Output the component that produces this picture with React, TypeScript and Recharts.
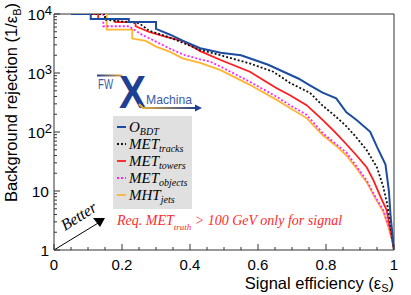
import React from 'react';
import { LineChart, Line, XAxis, YAxis, ReferenceArea } from 'recharts';

// signal efficiency / background rejection per discriminant
const effBdt = [0.05, 0.108, 0.108, 0.22, 0.22, 0.3, 0.3, 0.34, 0.38, 0.43, 0.49, 0.55, 0.59, 0.63, 0.675, 0.72, 0.75, 0.79, 0.83, 0.86, 0.89, 0.93, 0.95, 0.975, 0.985, 0.99, 0.997, 1];
const rejBdt = [10000, 10000, 8200, 8200, 7300, 7300, 5600, 4500, 3500, 2630, 2200, 2000, 1660, 1380, 1050, 800, 630, 465, 372, 215, 160, 101, 56, 28, 10, 3.7, 1.5, 1];

const effTrk = [0.05, 0.15, 0.15, 0.25, 0.28, 0.34, 0.4, 0.43, 0.49, 0.576, 0.645, 0.694, 0.753, 0.79, 0.83, 0.86, 0.89, 0.92, 0.95, 0.968, 0.98, 0.988, 0.995, 1];
const rejTrk = [10000, 10000, 8000, 7000, 5200, 4000, 2900, 2450, 2000, 1450, 1050, 680, 460, 280, 180, 125, 80, 49, 25, 12, 6, 3, 1.6, 1];

const effTow = [0.05, 0.13, 0.13, 0.18, 0.18, 0.24, 0.24, 0.28, 0.33, 0.38, 0.43, 0.49, 0.576, 0.655, 0.694, 0.743, 0.79, 0.83, 0.86, 0.89, 0.92, 0.94, 0.96, 0.978, 0.993, 1];
const rejTow = [10000, 10000, 8200, 8200, 7300, 7300, 6200, 4950, 4100, 3460, 2350, 1660, 1050, 550, 420, 285, 160, 95, 62, 40, 25, 15, 8, 4.8, 1.7, 1];

const effObj = [0.05, 0.145, 0.145, 0.22, 0.26, 0.3, 0.34, 0.38, 0.43, 0.46, 0.49, 0.576, 0.655, 0.694, 0.743, 0.79, 0.83, 0.86, 0.89, 0.92, 0.945, 0.968, 0.985, 0.995, 1];
const rejObj = [10000, 10000, 6200, 6200, 4400, 3400, 2600, 2050, 1700, 1550, 1280, 710, 395, 285, 195, 96, 62, 45, 26, 15, 8, 4.8, 2.5, 1.5, 1];

const effJet = [0.05, 0.155, 0.155, 0.23, 0.23, 0.27, 0.3, 0.34, 0.38, 0.43, 0.49, 0.576, 0.655, 0.694, 0.743, 0.79, 0.83, 0.86, 0.89, 0.92, 0.945, 0.968, 0.985, 0.995, 1];
const rejJet = [10000, 10000, 5450, 5450, 3830, 3500, 2800, 2300, 1750, 1480, 1120, 630, 350, 255, 172, 89, 58, 40, 24, 14, 7.5, 4.5, 2.3, 1.4, 1];

const legendMain = ['O', 'MET', 'MET', 'MET', 'MHT'];
const legendSub = ['BDT', 'tracks', 'towers', 'objects', 'jets'];

const xMajor = [0, 0.2, 0.4, 0.6, 0.8, 1];
const xMajorLabels = ['0', '0.2', '0.4', '0.6', '0.8', '1'];
const yMajor = [1, 10, 100, 1000, 10000];
const yMajorBase = ['1', '10', '10', '10', '10'];
const yMajorExp = ['', '', '2', '3', '4'];

const xTicks: number[] = [];
for (let i = 0; i <= 20; i++) xTicks.push(+(i * 0.05).toFixed(2));
const yTicks: number[] = [];
for (let d = 1; d < 10000; d *= 10) for (let m = 1; m < 10; m++) yTicks.push(m * d);
yTicks.push(10000);

const rows = (xs: number[], ys: number[]) => xs.map((x, i) => ({ x, y: ys[i] }));

const series = [
  { key: 'jets', data: rows(effJet, rejJet), color: '#ffb530', dash: undefined, width: 1.8, leg: 4 },
  { key: 'objects', data: rows(effObj, rejObj), color: '#ff22ff', dash: '2 2', width: 1.8, leg: 3 },
  { key: 'towers', data: rows(effTow, rejTow), color: '#ff1c1c', dash: undefined, width: 1.8, leg: 2 },
  { key: 'tracks', data: rows(effTrk, rejTrk), color: '#111111', dash: '2 2', width: 1.8, leg: 1 },
  { key: 'bdt', data: rows(effBdt, rejBdt), color: '#1c4ca0', dash: undefined, width: 2, leg: 0 },
];

const SANS = '"Liberation Sans", Arial, sans-serif';
const SERIF = '"Liberation Serif", "Times New Roman", serif';
const AXIS = '#333';

const XTick = (props: any) => {
  const { x, y, payload } = props;
  const idx = xMajor.findIndex((v) => Math.abs(v - payload.value) < 1e-6);
  const major = idx >= 0;
  return (
    <g>
      <line x1={x} x2={x} y1={y} y2={y - (major ? 6 : 3)} stroke={AXIS} />
      {major && (
        <text x={x} y={y + 20} textAnchor="middle" fontFamily={SANS} fontSize={15} fill="#000">
          {xMajorLabels[idx]}
        </text>
      )}
    </g>
  );
};

const YTick = (props: any) => {
  const { x, y, payload } = props;
  const idx = yMajor.findIndex((v) => Math.abs(v - payload.value) < 1e-6);
  const major = idx >= 0;
  const exp = major ? yMajorExp[idx] : '';
  return (
    <g>
      <line x1={x} x2={x + (major ? 6 : 3)} y1={y} y2={y} stroke={AXIS} />
      {major && (
        <text x={exp ? x - 2 : x - 5} y={y} dy="0.36em" textAnchor="end" fontFamily={SANS} fontSize={15.5} fill="#000">
          {yMajorBase[idx]}
          {exp && (
            <tspan dy={-5} fontSize={13}>
              {exp}
            </tspan>
          )}
        </text>
      )}
    </g>
  );
};

const legendRowY = [127, 144, 161, 178, 195];

export default function App() {
  return (
    <div style={{ position: 'absolute', left: 0, top: 0, width: 411, height: 295, background: '#fff' }}>
      <LineChart width={411} height={295} margin={{ top: 14, right: 17, bottom: 0, left: 0 }}>
        <defs>
          <linearGradient id="topBar" x1="0" y1="0" x2="1" y2="0">
            <stop offset="0%" stopColor="#1e3f94" />
            <stop offset="100%" stopColor="#f2b233" />
          </linearGradient>
          <linearGradient id="botBar" x1="0" y1="0" x2="1" y2="0">
            <stop offset="0%" stopColor="#f2b233" />
            <stop offset="100%" stopColor="#1e3f94" />
          </linearGradient>
        </defs>
        <XAxis
          type="number"
          dataKey="x"
          domain={[0, 1]}
          ticks={xTicks}
          interval={0}
          tickSize={0}
          tickMargin={0}
          tickLine={false}
          axisLine={false}
          height={45}
          tick={<XTick />}
          allowDataOverflow
        />
        <YAxis
          type="number"
          dataKey="y"
          scale="log"
          domain={[1, 10000]}
          ticks={yTicks}
          interval={0}
          tickSize={0}
          tickMargin={0}
          tickLine={false}
          axisLine={false}
          width={54}
          tick={<YTick />}
          allowDataOverflow
        />
        <ReferenceArea x1={0} x2={1} y1={1} y2={10000} fill="none" stroke={AXIS} strokeWidth={1} />
        {series.map((s) => (
          <Line
            key={s.key}
            data={s.data}
            dataKey="y"
            type="linear"
            stroke={s.color}
            strokeWidth={s.width}
            strokeDasharray={s.dash}
            dot={false}
            activeDot={false}
            isAnimationActive={false}
          />
        ))}

        {/* axis titles */}
        <text x={17} y={3} transform="rotate(-90 17 3)" textAnchor="end" fontFamily={SANS} fontSize={16.5} fill="#000">
          Background rejection (1/ε
          <tspan dy={4} fontSize={11}>B</tspan>
          <tspan dy={-4}>)</tspan>
        </text>
        <text x={394} y={289} textAnchor="end" fontFamily={SANS} fontSize={16.5} fill="#000">
          Signal efficiency (ε
          <tspan dy={3} fontSize={11}>S</tspan>
          <tspan dy={-3}>)</tspan>
        </text>

        {/* logo */}
        <path d="M97 75.5 L121 75.5 L125 79" fill="none" stroke="url(#topBar)" strokeWidth={2} />
        <text x={98} y={89} fontFamily={SANS} fontSize={14} textLength={15} lengthAdjust="spacingAndGlyphs" fill="#3a5ba8">
          FW
        </text>
        <text x={119} y={108} fontFamily={SANS} fontSize={46} fontWeight="bold" textLength={27} lengthAdjust="spacingAndGlyphs" fill="#1e3f94">
          X
        </text>
        <text x={146} y={104} fontFamily={SANS} fontSize={13} textLength={46} lengthAdjust="spacingAndGlyphs" fill="#3a5ba8">
          Machina
        </text>
        <path d="M139 104 L143 108 L197 108" fill="none" stroke="url(#botBar)" strokeWidth={2} />
        <polygon points="195,104.5 202,108 195,111.5" fill="#1e3f94" />

        {/* legend */}
        <rect x={113} y={116} width={79} height={93} fill="#e0e0e0" />
        {series
          .slice()
          .sort((a, b) => a.leg - b.leg)
          .map((s) => {
            const ry = legendRowY[s.leg];
            return (
              <g key={'leg-' + s.key}>
                <line x1={117} x2={126} y1={ry} y2={ry} stroke={s.color} strokeWidth={s.width} strokeDasharray={s.dash} />
                <text x={129} y={ry + 5} fontFamily={SERIF} fontStyle="italic" fontSize={15} fill="#000">
                  {legendMain[s.leg]}
                  <tspan dy={3} fontSize={10}>
                    {legendSub[s.leg]}
                  </tspan>
                </text>
              </g>
            );
          })}

        {/* annotations */}
        <line x1={54} y1={250} x2={99} y2={222.5} stroke="#000" strokeWidth={1} />
        <polygon points="93,218 105,218 100,227" fill="#000" />
        <text x={65} y={231} transform="rotate(-32 65 231)" fontFamily={SERIF} fontStyle="italic" fontSize={16} fill="#000">
          Better
        </text>
        <text x={117} y={225} fontFamily={SERIF} fontStyle="italic" fontSize={14} fill="#ff2a2a">
          Req. MET
          <tspan dy={5} fontSize={9}>
            truth
          </tspan>
          <tspan dy={-5}> &gt; 100 GeV only for signal</tspan>
        </text>
      </LineChart>
    </div>
  );
}
